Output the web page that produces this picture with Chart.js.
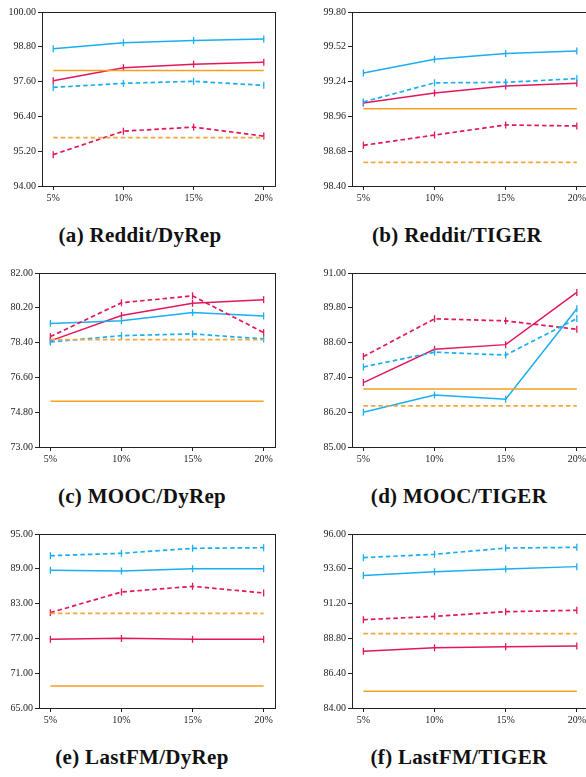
<!DOCTYPE html>
<html><head><meta charset="utf-8">
<script src="https://cdn.jsdelivr.net/npm/chart.js@4"></script>
<style>
html,body{margin:0;padding:0;background:#fff;overflow:hidden;width:586px;height:777px;}
.panel{position:absolute;}
.cap{position:absolute;font-family:"Liberation Serif",serif;font-weight:bold;font-size:21px;letter-spacing:0.3px;color:#111;white-space:nowrap;transform:translate(-50%,-50%);}
</style></head><body>
<div class="panel" style="left:0;top:0;width:293px;height:210px"><canvas id="c0"></canvas></div>
<div class="panel" style="left:293px;top:0;width:300px;height:210px"><canvas id="c1"></canvas></div>
<div class="panel" style="left:0;top:261px;width:293px;height:210px"><canvas id="c2"></canvas></div>
<div class="panel" style="left:293px;top:261px;width:300px;height:210px"><canvas id="c3"></canvas></div>
<div class="panel" style="left:0;top:522px;width:293px;height:210px"><canvas id="c4"></canvas></div>
<div class="panel" style="left:293px;top:522px;width:300px;height:210px"><canvas id="c5"></canvas></div>
<div class="cap" style="left:140px;top:235px">(a) Reddit/DyRep</div>
<div class="cap" style="left:457px;top:235px">(b) Reddit/TIGER</div>
<div class="cap" style="left:142px;top:496px">(c) MOOC/DyRep</div>
<div class="cap" style="left:459px;top:496px">(d) MOOC/TIGER</div>
<div class="cap" style="left:142px;top:757px">(e) LastFM/DyRep</div>
<div class="cap" style="left:459px;top:757px">(f) LastFM/TIGER</div>
<script>
// ---- data ----
const categories = [5, 10, 15, 20];
const xTickLabels = ["5%", "10%", "15%", "20%"];

// (a) Reddit/DyRep
const a_blueSolid  = [98.73, 98.94, 99.02, 99.07];
const a_blueDashed = [97.40, 97.54, 97.61, 97.47];
const a_redSolid   = [97.63, 98.08, 98.20, 98.27];
const a_redDashed  = [95.08, 95.89, 96.03, 95.72];
const a_orangeSolid  = [97.98, 97.98, 97.98, 97.98];
const a_orangeDashed = [95.67, 95.67, 95.67, 95.67];
const a_yTicks = [94.00, 95.20, 96.40, 97.60, 98.80, 100.00];

// (b) Reddit/TIGER
const b_blueSolid  = [99.31, 99.42, 99.467, 99.486];
const b_blueDashed = [99.076, 99.23, 99.234, 99.264];
const b_redSolid   = [99.068, 99.148, 99.205, 99.226];
const b_redDashed  = [98.727, 98.81, 98.891, 98.883];
const b_orangeSolid  = [99.022, 99.022, 99.022, 99.022];
const b_orangeDashed = [98.59, 98.59, 98.59, 98.59];
const b_yTicks = [98.40, 98.68, 98.96, 99.24, 99.52, 99.80];

// (c) MOOC/DyRep
const c_blueSolid  = [79.39, 79.53, 79.96, 79.78];
const c_blueDashed = [78.43, 78.76, 78.85, 78.59];
const c_redSolid   = [78.49, 79.80, 80.43, 80.62];
const c_redDashed  = [78.71, 80.46, 80.82, 78.92];
const c_orangeSolid  = [75.37, 75.37, 75.37, 75.37];
const c_orangeDashed = [78.55, 78.55, 78.55, 78.55];
const c_yTicks = [73.00, 74.80, 76.60, 78.40, 80.20, 82.00];

// (d) MOOC/TIGER
const d_blueSolid  = [86.20, 86.79, 86.65, 89.77];
const d_blueDashed = [87.76, 88.27, 88.17, 89.43];
const d_redSolid   = [87.22, 88.37, 88.53, 90.33];
const d_redDashed  = [88.12, 89.42, 89.35, 89.06];
const d_orangeSolid  = [87.00, 87.00, 87.00, 87.00];
const d_orangeDashed = [86.42, 86.42, 86.42, 86.42];
const d_yTicks = [85.00, 86.20, 87.40, 88.60, 89.80, 91.00];

// (e) LastFM/DyRep
const e_blueSolid  = [88.74, 88.62, 89.02, 89.02];
const e_blueDashed = [91.26, 91.67, 92.53, 92.64];
const e_redSolid   = [76.84, 77.01, 76.84, 76.84];
const e_redDashed  = [81.44, 85.00, 85.98, 84.83];
const e_orangeSolid  = [68.79, 68.79, 68.79, 68.79];
const e_orangeDashed = [81.32, 81.32, 81.32, 81.32];
const e_yTicks = [65.00, 71.00, 77.00, 83.00, 89.00, 95.00];

// (f) LastFM/TIGER
const f_blueSolid  = [93.13, 93.40, 93.59, 93.75];
const f_blueDashed = [94.37, 94.60, 95.03, 95.08];
const f_redSolid   = [87.91, 88.16, 88.23, 88.28];
const f_redDashed  = [90.09, 90.32, 90.64, 90.74];
const f_orangeSolid  = [85.15, 85.15, 85.15, 85.15];
const f_orangeDashed = [89.13, 89.13, 89.13, 89.13];
const f_yTicks = [84.00, 86.40, 88.80, 91.20, 93.60, 96.00];

// ---- styling ----
const BLUE = "#1aaef2", RED = "#e3175a", ORANGE = "#f5a11f", ORANGE_D = "#f4a73a";
const DASH = [4.5, 3];

const framePlugin = {
  id: "frame",
  afterDraw(chart) {
    const a = chart.chartArea, ctx = chart.ctx;
    ctx.save();
    ctx.strokeStyle = "#222";
    ctx.lineWidth = 1;
    ctx.strokeRect(Math.round(a.left) + 0.5, Math.round(a.top) + 0.5, Math.round(a.right - a.left), Math.round(a.bottom - a.top));
    ctx.restore();
  }
};

function pts(vals) { return categories.map((c, i) => ({ x: c, y: vals[i] })); }

function ds(vals, color, dashed, marker) {
  return {
    data: pts(vals),
    borderColor: color,
    backgroundColor: color,
    borderWidth: dashed ? 1.7 : 1.5,
    borderDash: dashed ? DASH : [],
    pointStyle: "line",
    rotation: 90,
    pointRadius: marker ? 3.5 : 0,
    pointBorderWidth: 1.3,
    pointHoverRadius: 0,
    tension: 0,
    fill: false
  };
}

function make(id, s, yTicks, yWidth, padRight) {
  const tickFont = { family: "'Liberation Serif', serif", size: 10 };
  new Chart(document.getElementById(id), {
    type: "line",
    data: {
      datasets: [
        ds(s.orangeSolid, ORANGE, false, false),
        ds(s.orangeDashed, ORANGE_D, true, false),
        ds(s.blueDashed, BLUE, true, true),
        ds(s.redDashed, RED, true, true),
        ds(s.blueSolid, BLUE, false, true),
        ds(s.redSolid, RED, false, true)
      ]
    },
    options: {
      responsive: true,
      maintainAspectRatio: false,
      animation: false,
      events: [],
      layout: { padding: { top: 12, right: padRight, left: 0, bottom: 0 } },
      plugins: { legend: { display: false }, tooltip: { enabled: false } },
      scales: {
        x: {
          type: "linear",
          min: 4.2, max: 20.8,
          afterBuildTicks(sc) { sc.ticks = categories.map(v => ({ value: v })); },
          afterFit(sc) { sc.height = 24; },
          ticks: {
            autoSkip: false, maxRotation: 0, padding: 2, color: "#222", font: tickFont,
            callback: (v) => xTickLabels[categories.indexOf(v)]
          },
          grid: { drawOnChartArea: false, drawTicks: true, tickLength: 4, color: "#222", lineWidth: 1 },
          border: { display: true, color: "#222", width: 1 }
        },
        y: {
          min: yTicks[0], max: yTicks[yTicks.length - 1],
          afterBuildTicks(sc) { sc.ticks = yTicks.map(v => ({ value: v })); },
          afterFit(sc) { sc.width = yWidth; },
          ticks: {
            autoSkip: false, padding: 2, color: "#222", font: tickFont,
            callback: (v) => Number(v).toFixed(2)
          },
          grid: { drawOnChartArea: false, drawTicks: true, tickLength: 4, color: "#222", lineWidth: 1 },
          border: { display: true, color: "#222", width: 1 }
        }
      }
    },
    plugins: [framePlugin]
  });
}

make("c0", { blueSolid: a_blueSolid, blueDashed: a_blueDashed, redSolid: a_redSolid, redDashed: a_redDashed, orangeSolid: a_orangeSolid, orangeDashed: a_orangeDashed }, a_yTicks, 42, 18);
make("c1", { blueSolid: b_blueSolid, blueDashed: b_blueDashed, redSolid: b_redSolid, redDashed: b_redDashed, orangeSolid: b_orangeSolid, orangeDashed: b_orangeDashed }, b_yTicks, 59, 4);
make("c2", { blueSolid: c_blueSolid, blueDashed: c_blueDashed, redSolid: c_redSolid, redDashed: c_redDashed, orangeSolid: c_orangeSolid, orangeDashed: c_orangeDashed }, c_yTicks, 39, 18);
make("c3", { blueSolid: d_blueSolid, blueDashed: d_blueDashed, redSolid: d_redSolid, redDashed: d_redDashed, orangeSolid: d_orangeSolid, orangeDashed: d_orangeDashed }, d_yTicks, 59, 4);
make("c4", { blueSolid: e_blueSolid, blueDashed: e_blueDashed, redSolid: e_redSolid, redDashed: e_redDashed, orangeSolid: e_orangeSolid, orangeDashed: e_orangeDashed }, e_yTicks, 39, 18);
make("c5", { blueSolid: f_blueSolid, blueDashed: f_blueDashed, redSolid: f_redSolid, redDashed: f_redDashed, orangeSolid: f_orangeSolid, orangeDashed: f_orangeDashed }, f_yTicks, 59, 4);
</script>
</body></html>
